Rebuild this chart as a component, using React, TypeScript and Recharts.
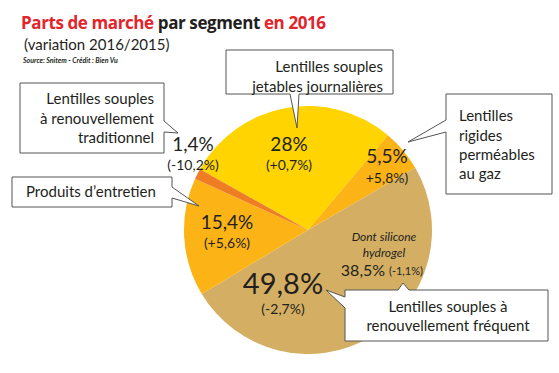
import React from "react";
import { PieChart, Pie, Cell } from "recharts";

const segments = [
  "Lentilles souples jetables journalières",
  "Lentilles rigides perméables au gaz",
  "Lentilles souples à renouvellement fréquent",
  "Produits d'entretien",
  "Lentilles souples à renouvellement traditionnel",
];
const shares = [28, 5.5, 49.8, 15.4, 1.4];
const shareLabels = ["28%", "5,5%", "49,8%", "15,4%", "1,4%"];
const variations = ["(+0,7%)", "+5,8%)", "(-2,7%)", "(+5,6%)", "(-10,2%)"];
const siliconeShare = "38,5%";
const siliconeVariation = "(-1,1%)";

const colors = ["#FFD400", "#FBB316", "#D4AF63", "#FBB316", "#EE7D23"];

// label placement relative to pie centre
const labelPos = [
  { dx: -19, dy: -87, vdy: -66, size: 19 },
  { dx: 79, dy: -75, vdy: -53, size: 19 },
  { dx: -25, dy: 52, vdy: 78, size: 29 },
  { dx: -81, dy: -9, vdy: 12, size: 19 },
  { dx: -115, dy: -87, vdy: -66, size: 19 },
];

const data = segments.map((name, i) => ({ name, value: shares[i] }));

const FONT = "Lato, 'Open Sans', sans-serif";
const INK = "#231f20";

function renderLabel(props: any) {
  const { cx, cy, index } = props;
  const p = labelPos[index];
  return (
    <g key={index}>
      <text x={cx + p.dx} y={cy + p.dy} textAnchor="middle" dominantBaseline="central" fontSize={p.size} fill={INK} fontFamily={FONT}>
        {shareLabels[index]}
      </text>
      <text x={cx + p.dx} y={cy + p.vdy} textAnchor="middle" dominantBaseline="central" fontSize={14} fill={INK} fontFamily={FONT}>
        {variations[index]}
      </text>
      {index === 2 && (
        <g fontFamily={FONT} fill={INK}>
          <text x={cx + 76} y={cy + 6} textAnchor="middle" dominantBaseline="central" fontSize={12} fontStyle="italic">Dont silicone</text>
          <text x={cx + 76} y={cy + 22} textAnchor="middle" dominantBaseline="central" fontSize={12} fontStyle="italic">hydrogel</text>
          <text x={cx + 55} y={cy + 39} textAnchor="middle" dominantBaseline="central" fontSize={16}>{siliconeShare}</text>
          <text x={cx + 98} y={cy + 40} textAnchor="middle" dominantBaseline="central" fontSize={11}>{siliconeVariation}</text>
        </g>
      )}
    </g>
  );
}

const boxStyle = { fill: "#fff", stroke: "#555", strokeWidth: 1 };

function Callouts() {
  const t = { fontFamily: FONT, fontSize: 15, fill: INK };
  return (
    <svg width={559} height={373} style={{ position: "absolute", left: 0, top: 0, pointerEvents: "none" }}>
      {/* traditionnel */}
      <path d="M20,83 H164 V121 L178,133 L164,132 V153 H20 Z" {...boxStyle} />
      <text {...t} textAnchor="end" x={154} y={104}>Lentilles souples</text>
      <text {...t} textAnchor="end" x={154} y={124}>à renouvellement</text>
      <text {...t} textAnchor="end" x={154} y={143}>traditionnel</text>
      {/* entretien */}
      <path d="M12,177 H172 V187 L199,206 L172,198 V207 H12 Z" {...boxStyle} />
      <text {...t} x={26} y={197}>Produits d’entretien</text>
      {/* jetables */}
      <path d="M226,50 H393 V94 H299 L297,128 L290,94 H226 Z" {...boxStyle} />
      <text {...t} textAnchor="end" x={383} y={72}>Lentilles souples</text>
      <text {...t} textAnchor="end" x={383} y={92}>jetables journalières</text>
      {/* rigides */}
      <path d="M446,94 H552 V194 H446 V132 L408,142 L446,120 Z" {...boxStyle} />
      <text {...t} x={459} y={121}>Lentilles</text>
      <text {...t} x={459} y={141}>rigides</text>
      <text {...t} x={459} y={160}>perméables</text>
      <text {...t} x={459} y={179}>au gaz</text>
      {/* frequent */}
      <path d="M345,290 H398 L403,283 L409,290 H548 V341 H345 V308 L326,290 L345,297 Z" {...boxStyle} />
      <text {...t} textAnchor="middle" x={448} y={312}>Lentilles souples à</text>
      <text {...t} textAnchor="middle" x={448} y={331}>renouvellement fréquent</text>
      {/* title */}
      <text x={21} y={29} fontFamily="'Open Sans', sans-serif" fontSize={17} fontWeight={700} fill={INK} letterSpacing={-0.4}>
        <tspan fill="#E3242B">Parts de marché</tspan> par segment <tspan fill="#E3242B">en 2016</tspan>
      </text>
      <text x={24} y={50} fontFamily={FONT} fontSize={15} fill={INK}>(variation 2016/2015)</text>
      <text x={23} y={63} fontFamily={FONT} fontSize={7} fontStyle="italic" fontWeight={700} fill={INK}>Source: Snitem - Crédit : Bien Vu</text>
    </svg>
  );
}

export default function App() {
  return (
    <div style={{ position: "fixed", left: 0, top: 0, width: 559, height: 373, background: "#fff" }}>
      <PieChart width={559} height={373} margin={{ top: 0, right: 0, bottom: 0, left: 0 }}>
        <Pie
          data={data}
          dataKey="value"
          nameKey="name"
          cx={308}
          cy={230}
          outerRadius={124}
          startAngle={150.6}
          endAngle={-209.4}
          stroke="none"
          label={renderLabel}
          labelLine={false}
          isAnimationActive={false}
        >
          {data.map((d, i) => (
            <Cell key={d.name} fill={colors[i]} />
          ))}
        </Pie>
      </PieChart>
      <Callouts />
    </div>
  );
}
